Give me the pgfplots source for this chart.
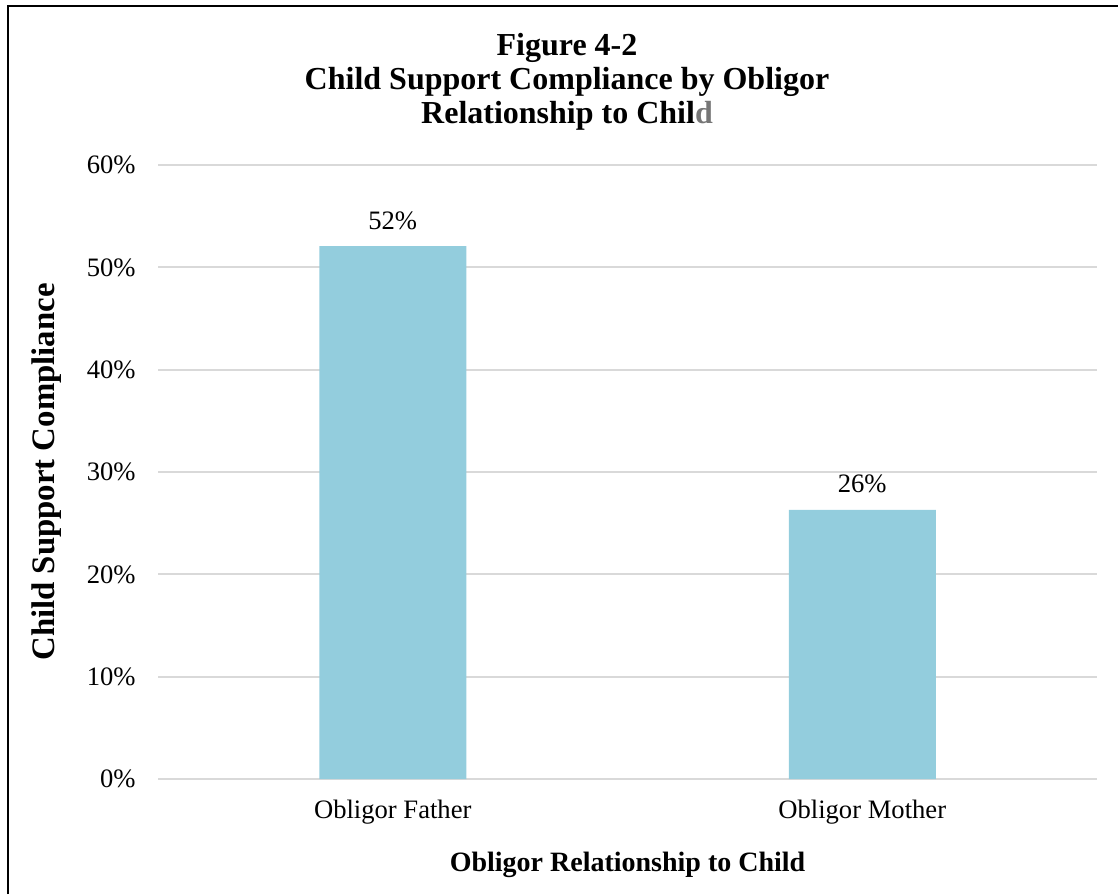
\documentclass[border=0pt]{standalone}
\usepackage{fontspec}
\setmainfont{Liberation Serif}
\usepackage{pgfplots}
\pgfplotsset{compat=1.18}
\definecolor{barblue}{RGB}{147,205,221}
\definecolor{gridgray}{RGB}{217,217,217}
\definecolor{dgray}{RGB}{118,118,118}
\newcommand{\tickfont}{\fontsize{13.3}{16}\selectfont}
\begin{document}
\begin{tikzpicture}
\useasboundingbox (0,0) rectangle (559pt,-447pt);
% frame (left and top edges visible)
\draw[line width=1pt] (4pt,-447pt) -- (4pt,-3pt) -- (559pt,-3pt);
\begin{axis}[
  at={(79pt,-389.5pt)}, anchor=south west,
  scale only axis, width=469.5pt, height=307pt,
  xmin=-0.5, xmax=1.5, ymin=0, ymax=60,
  axis line style={draw=none},
  ymajorgrids, grid style={gridgray, line width=0.9pt},
  ytick={0,10,20,30,40,50,60},
  yticklabels={0\%,10\%,20\%,30\%,40\%,50\%,60\%},
  yticklabel style={font=\tickfont, anchor=east, inner sep=0pt, xshift=-11pt},
  xtick={0,1}, xticklabels={Obligor Father, Obligor Mother},
  xticklabel style={font=\tickfont, anchor=base, inner sep=0pt, yshift=-19.5pt},
  major tick length=0pt,
  tick style={draw=none},
  clip=false,
  ybar, bar width=73.5pt,
  nodes near coords={\pgfmathprintnumber[fixed,precision=0,assume math mode=true]{\pgfplotspointmeta}\%},
  nodes near coords style={font=\tickfont, anchor=base, inner sep=0pt, yshift=8.5pt},
]
\addplot[fill=barblue, draw=none] coordinates {(0,52.08) (1,26.29)};
\end{axis}
% title
\node[anchor=base, font=\bfseries\fontsize{16}{19}\selectfont] at (283.5pt,-27.5pt) {Figure 4-2};
\node[anchor=base, font=\bfseries\fontsize{16}{19}\selectfont] at (283.5pt,-44.5pt) {Child Support Compliance by Obligor};
\node[anchor=base, font=\bfseries\fontsize{16}{19}\selectfont] at (283.5pt,-61.5pt) {Relationship to Chil\textcolor{dgray}{d}};
% axis labels
\node[rotate=90, font=\bfseries\fontsize{16.4}{19}\selectfont] at (23.5pt,-236pt) {Child Support Compliance};
\node[anchor=base, font=\bfseries\fontsize{14}{17}\selectfont] at (313.75pt,-435.5pt) {Obligor Relationship to Child};
\end{tikzpicture}
\end{document}
